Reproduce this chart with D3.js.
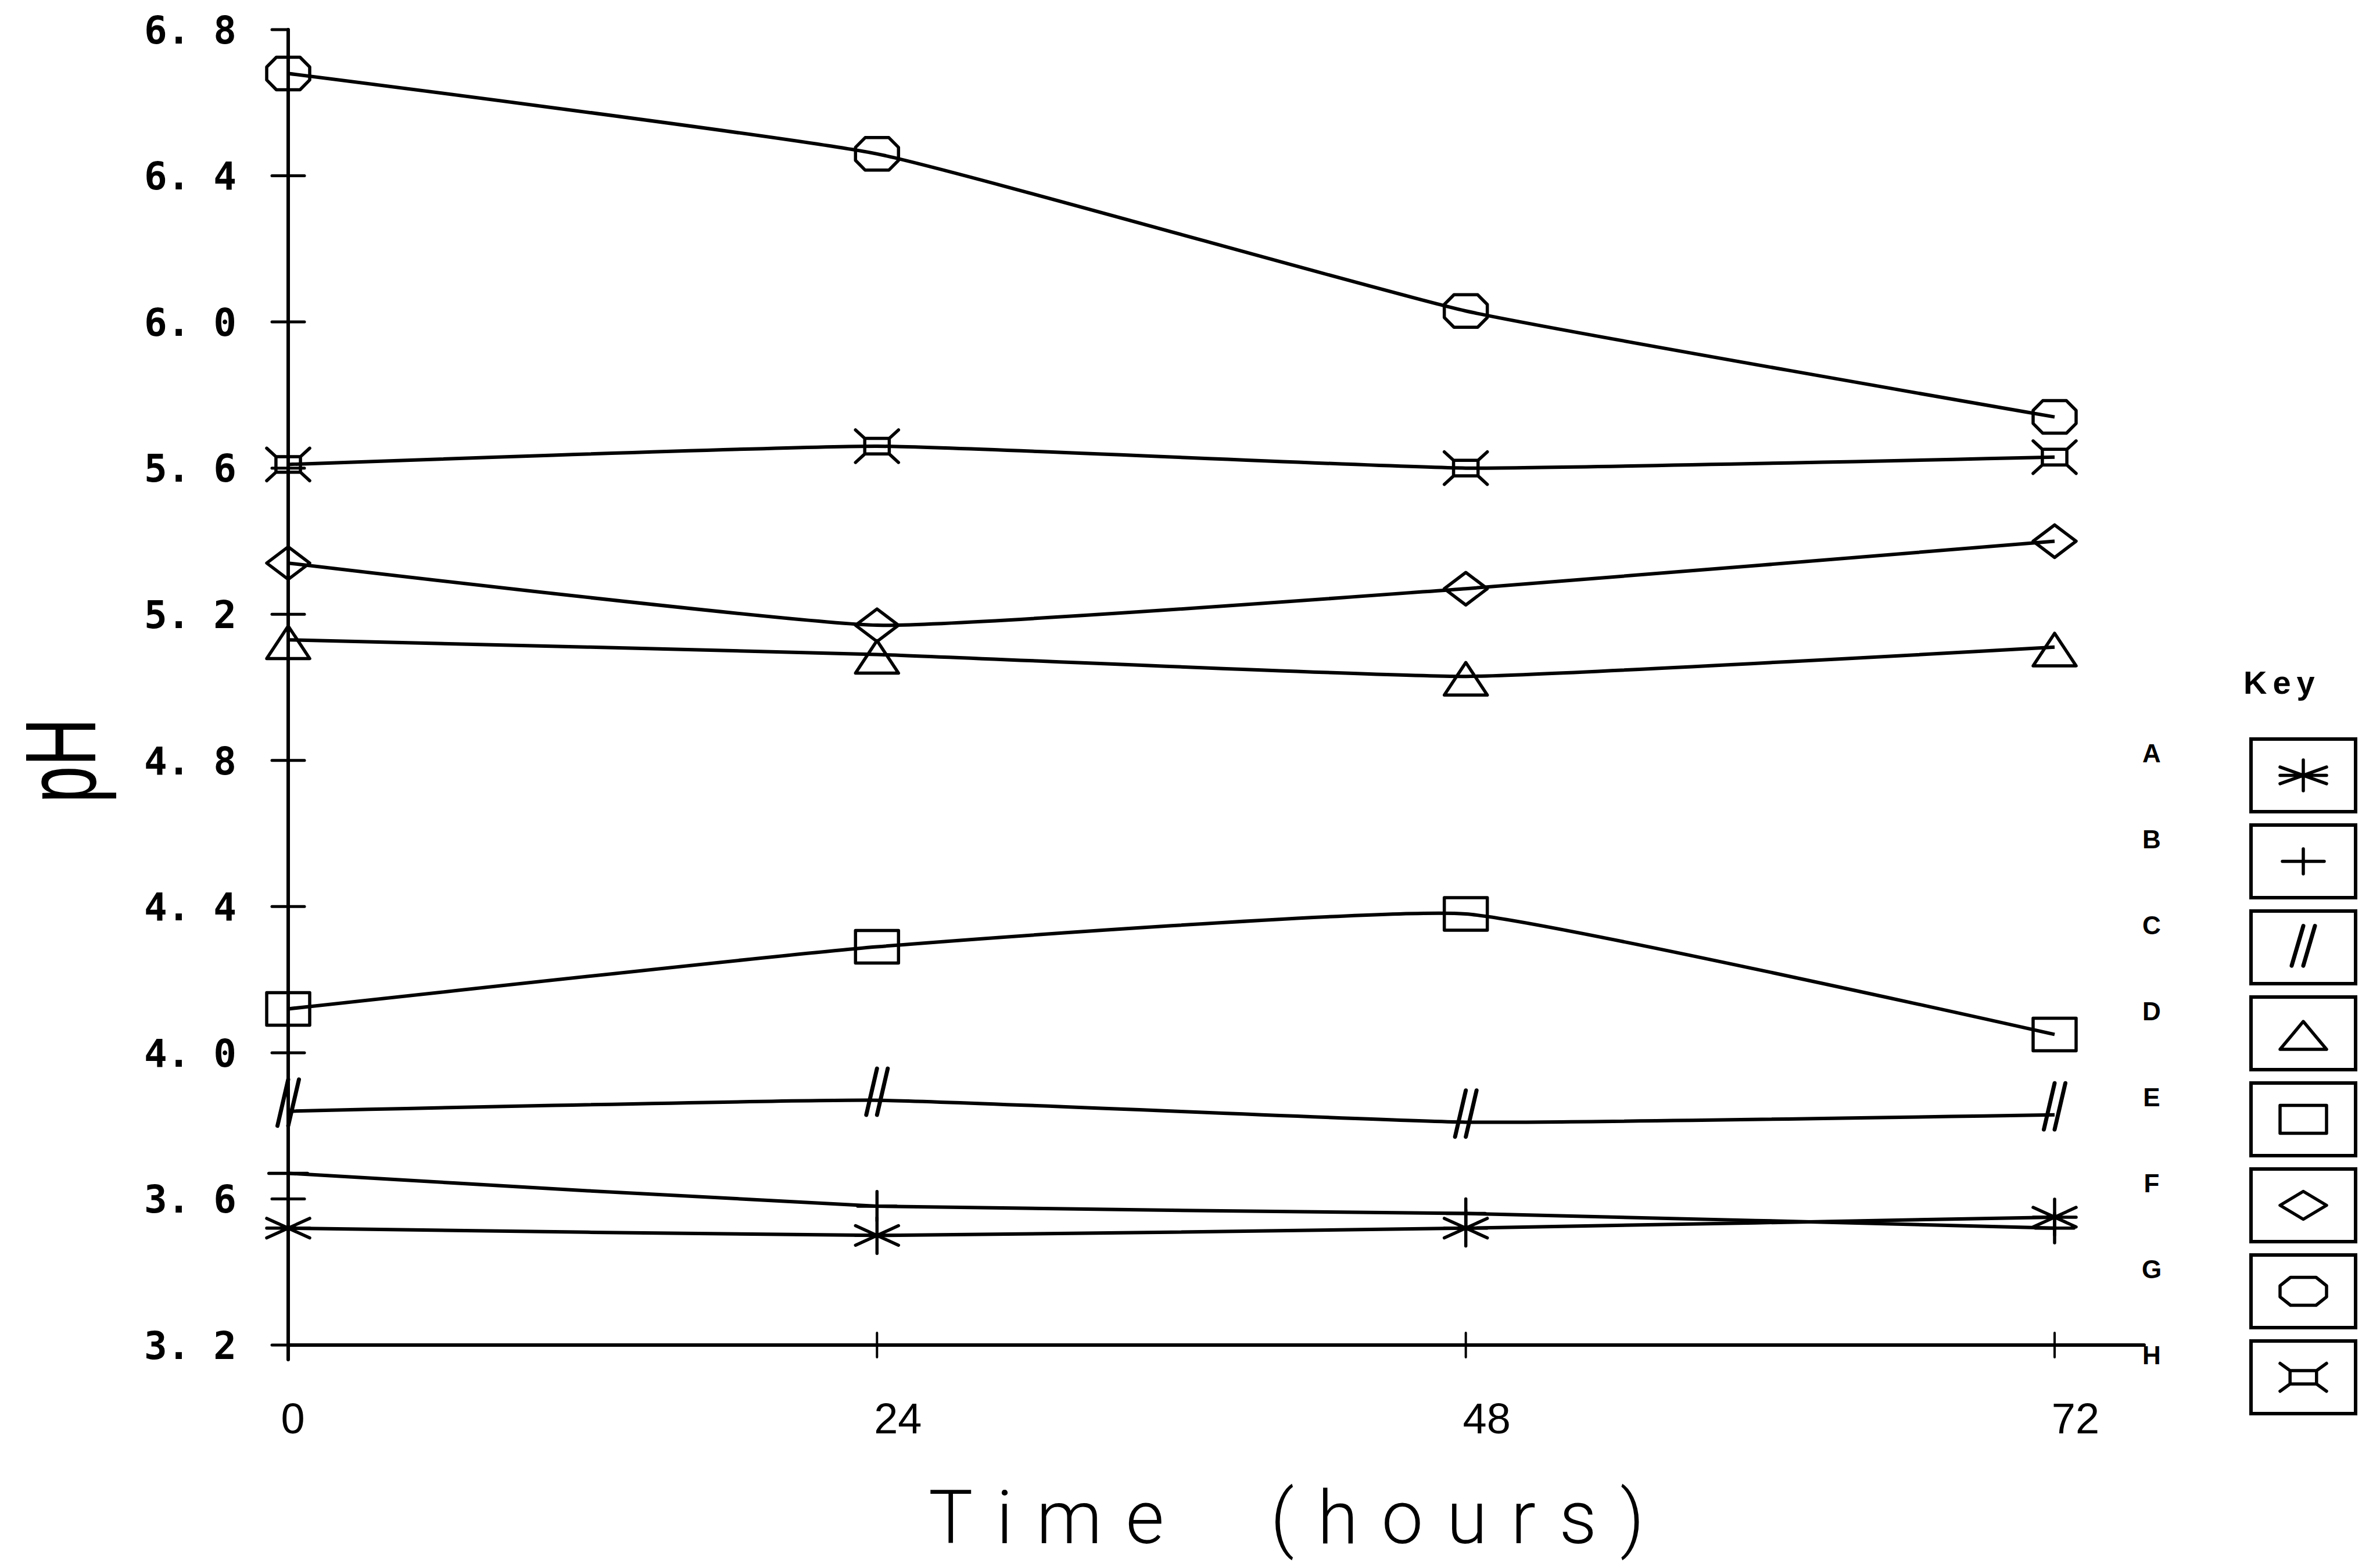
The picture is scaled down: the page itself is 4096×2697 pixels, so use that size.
<!DOCTYPE html>
<html>
<head>
<meta charset="utf-8">
<script src="https://cdn.jsdelivr.net/npm/d3@7"></script>
<style>
html, body { margin: 0; padding: 0; background: #fff; }
svg { display: block; background: #fff; }
</style>
</head>
<body>
<svg width="4096" height="2697"></svg>
<script>
// Values (pH against time)
var hours = [0, 24, 48, 72];
var keys = ["A", "B", "C", "D", "E", "F", "G", "H"];
var phA = [3.52, 3.50, 3.52, 3.55];
var phB = [3.67, 3.58, 3.56, 3.52];
var phC = [3.84, 3.87, 3.81, 3.83];
var phD = [5.13, 5.09, 5.03, 5.11];
var phE = [4.12, 4.29, 4.38, 4.05];
var phF = [5.34, 5.17, 5.27, 5.40];
var phG = [6.68, 6.46, 6.03, 5.74];
var phH = [5.61, 5.66, 5.60, 5.63];
var yTicks = [3.2, 3.6, 4.0, 4.4, 4.8, 5.2, 5.6, 6.0, 6.4, 6.8];
var xTicks = [0, 24, 48, 72];

var svg = d3.select("svg");

var x = d3.scaleLinear().domain([0, 72]).range([496, 3536]);
var y = d3.scaleLinear().domain([3.2, 6.8]).range([2315, 51]);

var series = [phA, phB, phC, phD, phE, phF, phG, phH].map(function (v, i) {
	return { key: keys[i], values: v.map(function (p, j) { return { t: hours[j], ph: p }; }) };
});

// marker shapes, drawn round (0,0) at half width w and half height h
function markerPath(k, w, h) {
	var p = d3.path();
	switch (k) {
		case "A":
			p.moveTo(0, -h * 1.1); p.lineTo(0, h * 1.1);
			p.moveTo(-w, -h * 0.6); p.lineTo(w, h * 0.6);
			p.moveTo(-w, h * 0.6); p.lineTo(w, -h * 0.6);
			p.moveTo(-w, 0); p.lineTo(w, 0);
			break;
		case "B":
			p.moveTo(-w * 0.9, 0); p.lineTo(w * 0.9, 0);
			p.moveTo(0, -h * 0.9); p.lineTo(0, h * 0.9);
			break;
		case "C":
			p.moveTo(-w * 0.5, h * 0.9); p.lineTo(0, -h * 1.95);
			p.moveTo(0, h * 0.9); p.lineTo(w * 0.5, -h * 1.95);
			break;
		case "D":
			p.moveTo(0, -h * 0.85); p.lineTo(w, h * 1.15); p.lineTo(-w, h * 1.15); p.closePath();
			break;
		case "E":
			p.rect(-w, -h, 2 * w, 2 * h);
			break;
		case "F":
			p.moveTo(-w, 0); p.lineTo(0, -h); p.lineTo(w, 0); p.lineTo(0, h); p.closePath();
			break;
		case "G":
			p.moveTo(-w * 0.55, -h); p.lineTo(w * 0.55, -h); p.lineTo(w, -h * 0.4);
			p.lineTo(w, h * 0.4); p.lineTo(w * 0.55, h); p.lineTo(-w * 0.55, h);
			p.lineTo(-w, h * 0.4); p.lineTo(-w, -h * 0.4); p.closePath();
			break;
		case "H":
			p.rect(-w * 0.57, -h * 0.48, w * 1.14, h * 0.96);
			p.moveTo(-w * 0.57, -h * 0.48); p.lineTo(-w, -h);
			p.moveTo(w * 0.57, -h * 0.48); p.lineTo(w, -h);
			p.moveTo(-w * 0.57, h * 0.48); p.lineTo(-w, h);
			p.moveTo(w * 0.57, h * 0.48); p.lineTo(w, h);
			break;
	}
	return p.toString();
}

// Axes, drawn plotter style
var axes = svg.append("g")
	.attr("stroke", "#000")
	.attr("stroke-width", 6)
	.attr("stroke-linecap", "round");

axes.append("line")
	.attr("x1", x(0)).attr("x2", x(0))
	.attr("y1", y(6.8)).attr("y2", y(3.2) + 25);

axes.append("line")
	.attr("x1", x(0)).attr("x2", 3690)
	.attr("y1", y(3.2)).attr("y2", y(3.2));

axes.selectAll(".ytick")
	.data(yTicks)
	.enter().append("line")
	.attr("class", "ytick")
	.attr("x1", x(0) - 28)
	.attr("x2", (d) => (d === 3.2 || d === 6.8) ? x(0) : x(0) + 28)
	.attr("y1", (d) => y(d))
	.attr("y2", (d) => y(d))
	.attr("stroke-width", 5);

axes.selectAll(".xtick")
	.data(xTicks.slice(1))
	.enter().append("line")
	.attr("class", "xtick")
	.attr("x1", (d) => x(d)).attr("x2", (d) => x(d))
	.attr("y1", y(3.2) - 21).attr("y2", y(3.2) + 21)
	.attr("stroke-width", 4);

// Tick labels
svg.append("g").selectAll("text")
	.data(yTicks)
	.enter().append("text")
	.attr("x", 407)
	.attr("y", (d) => y(d))
	.attr("dy", "0.36em")
	.attr("text-anchor", "end")
	.style("font-family", "'DejaVu Sans Mono', monospace")
	.style("font-weight", "bold")
	.style("font-size", "66px")
	.style("white-space", "pre")
	.text((d) => d3.format(".1f")(d).replace(".", ". "));

svg.append("g").selectAll("text")
	.data(xTicks)
	.enter().append("text")
	.attr("x", (d) => x(d) + (d === 0 ? 8 : 36))
	.attr("y", 2467)
	.attr("text-anchor", "middle")
	.style("font-family", "'Liberation Sans', sans-serif")
	.style("font-size", "74px")
	.text((d) => d);

// Axis titles
svg.append("text")
	.attr("x", 1598)
	.attr("y", 2656)
	.attr("textLength", 1232)
	.attr("lengthAdjust", "spacing")
	.style("font-family", "Roboto, 'Liberation Sans', sans-serif")
	.style("font-weight", 300)
	.style("font-size", "128px")
	.style("white-space", "pre")
	.text("Time  (hours)");

svg.append("text")
	.attr("transform", "translate(164,1309) rotate(-90)")
	.attr("text-anchor", "middle")
	.attr("textLength", 146)
	.attr("lengthAdjust", "spacingAndGlyphs")
	.style("font-family", "'Liberation Sans', sans-serif")
	.style("font-weight", 300)
	.style("font-size", "172px")
	.text("pH");

// Series lines
var line = d3.line()
	.x((d) => x(d.t))
	.y((d) => y(d.ph))
	.curve(d3.curveCardinal.tension(0.6));

var plot = svg.append("g");

plot.selectAll(".series")
	.data(series)
	.enter().append("path")
	.attr("class", "series")
	.attr("d", (d) => line(d.values))
	.attr("fill", "none")
	.attr("stroke", "#000")
	.attr("stroke-width", 6);

// Markers
series.forEach(function (s) {
	plot.selectAll(".m" + s.key)
		.data(s.values)
		.enter().append("path")
		.attr("class", "m" + s.key)
		.attr("transform", (d) => "translate(" + x(d.t) + "," + y(d.ph) + ")")
		.attr("d", markerPath(s.key, 37, 28))
		.attr("fill", "none")
		.attr("stroke", "#000")
		.attr("stroke-width", s.key === "C" ? 7 : 5.5)
		.attr("stroke-linejoin", "round")
		.attr("stroke-linecap", "round");
});

// Key
var legend = svg.append("g");
var boxX = 3874, boxW = 180, boxH = 125, boxTop = 1272, step = 148;

legend.append("text")
	.attr("x", 3861)
	.attr("y", 1194)
	.style("font-family", "'Liberation Sans', sans-serif")
	.style("font-weight", "bold")
	.style("font-size", "56px")
	.style("letter-spacing", "10px")
	.text("Key");

var item = legend.selectAll(".key")
	.data(keys)
	.enter().append("g")
	.attr("class", "key");

item.append("text")
	.attr("x", 3703)
	.attr("y", (d, i) => boxTop + 24 + 16 + i * step)
	.attr("text-anchor", "middle")
	.style("font-family", "'Liberation Sans', sans-serif")
	.style("font-weight", "bold")
	.style("font-size", "44px")
	.text((d) => d);

item.append("rect")
	.attr("x", boxX)
	.attr("y", (d, i) => boxTop + i * step)
	.attr("width", boxW)
	.attr("height", boxH)
	.attr("fill", "none")
	.attr("stroke", "#000")
	.attr("stroke-width", 6);

item.append("path")
	.attr("transform", (d, i) => "translate(" + (boxX + boxW / 2) + "," + (boxTop + boxH / 2 + (d === "C" ? 10 : 0) + i * step) + ")")
	.attr("d", (d) => markerPath(d, 40, 24))
	.attr("fill", "none")
	.attr("stroke", "#000")
	.attr("stroke-width", (d) => d === "C" ? 7 : 5.5)
	.attr("stroke-linejoin", "round")
	.attr("stroke-linecap", "round");
</script>
</body>
</html>
